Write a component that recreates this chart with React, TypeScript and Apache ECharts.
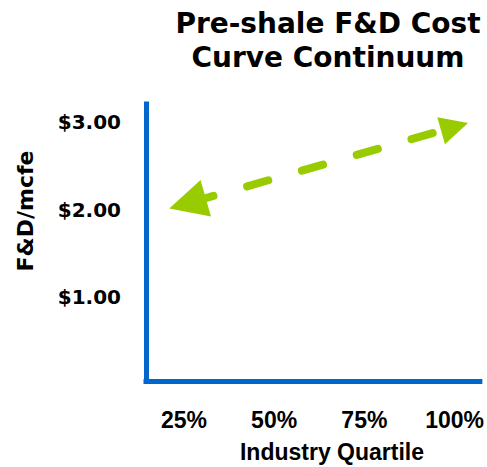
import React, { useEffect, useRef } from "react";
import * as echarts from "echarts";

// Axis tick labels
const quartileTicks = [25, 50, 75, 100];
const costTicks = [1, 2, 3];

// Double-headed trend arrow: quartile (%) and F&D cost ($/mcfe) at its two ends
const arrowQuartile = [26, 100];
const arrowCost = [2.07, 2.94];

const titleLines = ["Pre-shale F&D Cost", "Curve Continuum"];

const BLUE = "#0066CC";
const GREEN = "#99CC00";

export default function App() {
  const ref = useRef<HTMLDivElement>(null);

  useEffect(() => {
    if (!ref.current) return;
    const chart = echarts.init(ref.current, null, { renderer: "svg" });

    chart.setOption({
      animation: false,
      backgroundColor: "#ffffff",
      grid: { left: 146, right: 7, top: 104, bottom: 86 },
      graphic: [
        {
          type: "text",
          x: 328,
          y: 40,
          style: {
            text: titleLines.join("\n"),
            font: 'bold 28px "DejaVu Sans"',
            fill: "#000",
            align: "center",
            verticalAlign: "middle",
            lineHeight: 34,
          },
        },
        {
          type: "text",
          x: 332,
          y: 452,
          style: {
            text: "Industry Quartile",
            font: 'bold 23px "Liberation Sans"',
            fill: "#000",
            align: "center",
            verticalAlign: "middle",
          },
        },
        {
          type: "text",
          x: 25,
          y: 211,
          rotation: Math.PI / 2,
          style: {
            text: "F&D/mcfe",
            font: 'bold 22px "DejaVu Sans"',
            fill: "#000",
            align: "center",
            verticalAlign: "middle",
          },
        },
      ],
      xAxis: {
        type: "value",
        min: 14.5,
        max: 107,
        splitLine: { show: false },
        axisTick: { show: false },
        axisLine: { show: true, lineStyle: { color: BLUE, width: 5, cap: "square" } },
        axisLabel: {
          customValues: quartileTicks,
          formatter: (v: number) => `${v}%`,
          margin: 27,
          color: "#000",
          fontFamily: "Liberation Sans",
          fontWeight: "bold",
          fontSize: 23,
        },
      },
      yAxis: {
        type: "value",
        min: 0.05,
        max: 3.2,
        splitLine: { show: false },
        axisTick: { show: false },
        axisLine: { show: true, lineStyle: { color: BLUE, width: 5, cap: "square" } },
        axisLabel: {
          customValues: costTicks,
          formatter: (v: number) => `$${v.toFixed(2)}`,
          margin: 25,
          color: "#000",
          fontFamily: "DejaVu Sans",
          fontWeight: "bold",
          fontSize: 20,
        },
      },
      series: [
        {
          type: "lines",
          coordinateSystem: "cartesian2d",
          symbol: ["triangle", "triangle"],
          symbolSize: [38, 28],
          lineStyle: {
            color: GREEN,
            width: 8,
            type: [22, 35],
            dashOffset: 52,
            cap: "round",
            opacity: 1,
          },
          itemStyle: { color: GREEN },
          data: [
            {
              coords: [
                [arrowQuartile[0], arrowCost[0]],
                [arrowQuartile[1], arrowCost[1]],
              ],
            },
          ],
        },
      ],
    });

    return () => chart.dispose();
  }, []);

  return (
    <div
      ref={ref}
      style={{ position: "fixed", left: 0, top: 0, width: 487, height: 467 }}
    />
  );
}
